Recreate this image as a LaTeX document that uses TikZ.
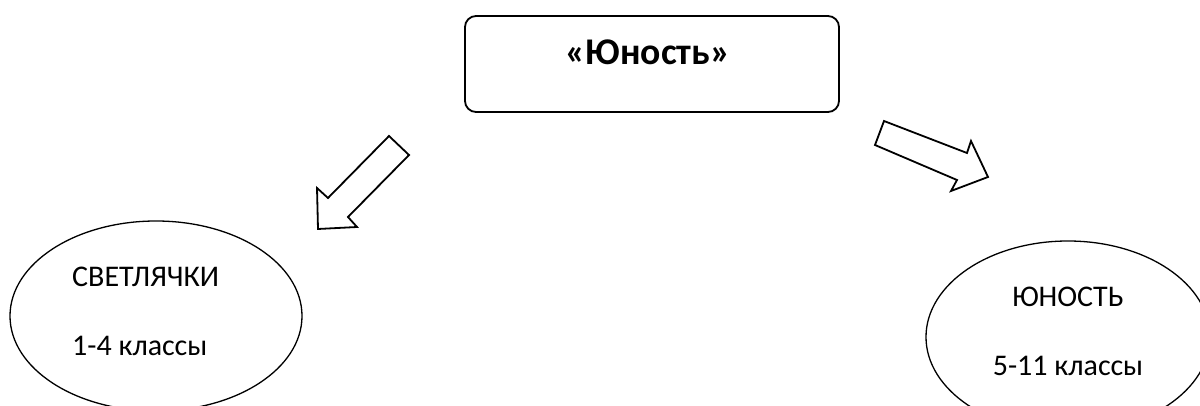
\documentclass[tikz,border=0pt]{standalone}
\usepackage{fontspec}
\setmainfont{Carlito}
\usetikzlibrary{shapes.geometric}
\begin{document}
\begin{tikzpicture}[x=1pt,y=-1pt,
  box/.style={draw,line width=1.8pt,rounded corners=11pt},
  oval/.style={draw,line width=1.3pt,ellipse,inner sep=0pt},
  blockarrow/.style={draw,line width=1.8pt,line join=miter,fill=white},
  lbl/.style={inner sep=0pt,font=\fontsize{30}{36}\selectfont},
  title/.style={inner sep=0pt,font=\fontsize{37.7}{44}\selectfont\bfseries}]
\useasboundingbox (0,0) rectangle (1200,406);
\clip (0,0) rectangle (1200,406);
% top box
\draw[box] (465,16) rectangle (839,112);
\node[title,anchor=base] (t) at (648,65) {«Юность»};
% ellipses
\node[oval,minimum width=292pt,minimum height=190pt] (e1) at (156,316) {};
\node[oval,minimum width=284pt,minimum height=192pt] (e2) at (1068,337) {};
\node[lbl,anchor=base west] (s1) at (72,287) {СВЕТЛЯЧКИ};
\node[lbl,anchor=base west] (s2) at (72,355) {1-4 классы};
\node[lbl,anchor=base] (r1) at (1068,306) {ЮНОСТЬ};
\node[lbl,anchor=base] (r2) at (1068,375) {5-11 классы};
% block arrows
\draw[blockarrow] (389,136) -- (409,155) -- (348,217) -- (357,227) -- (318,229)
  -- (317,188) -- (328,198) -- cycle;
\draw[blockarrow] (884,121) -- (967,153) -- (971,141) -- (988,177) -- (951,191)
  -- (957,180) -- (875,145) -- cycle;
\end{tikzpicture}
\end{document}
